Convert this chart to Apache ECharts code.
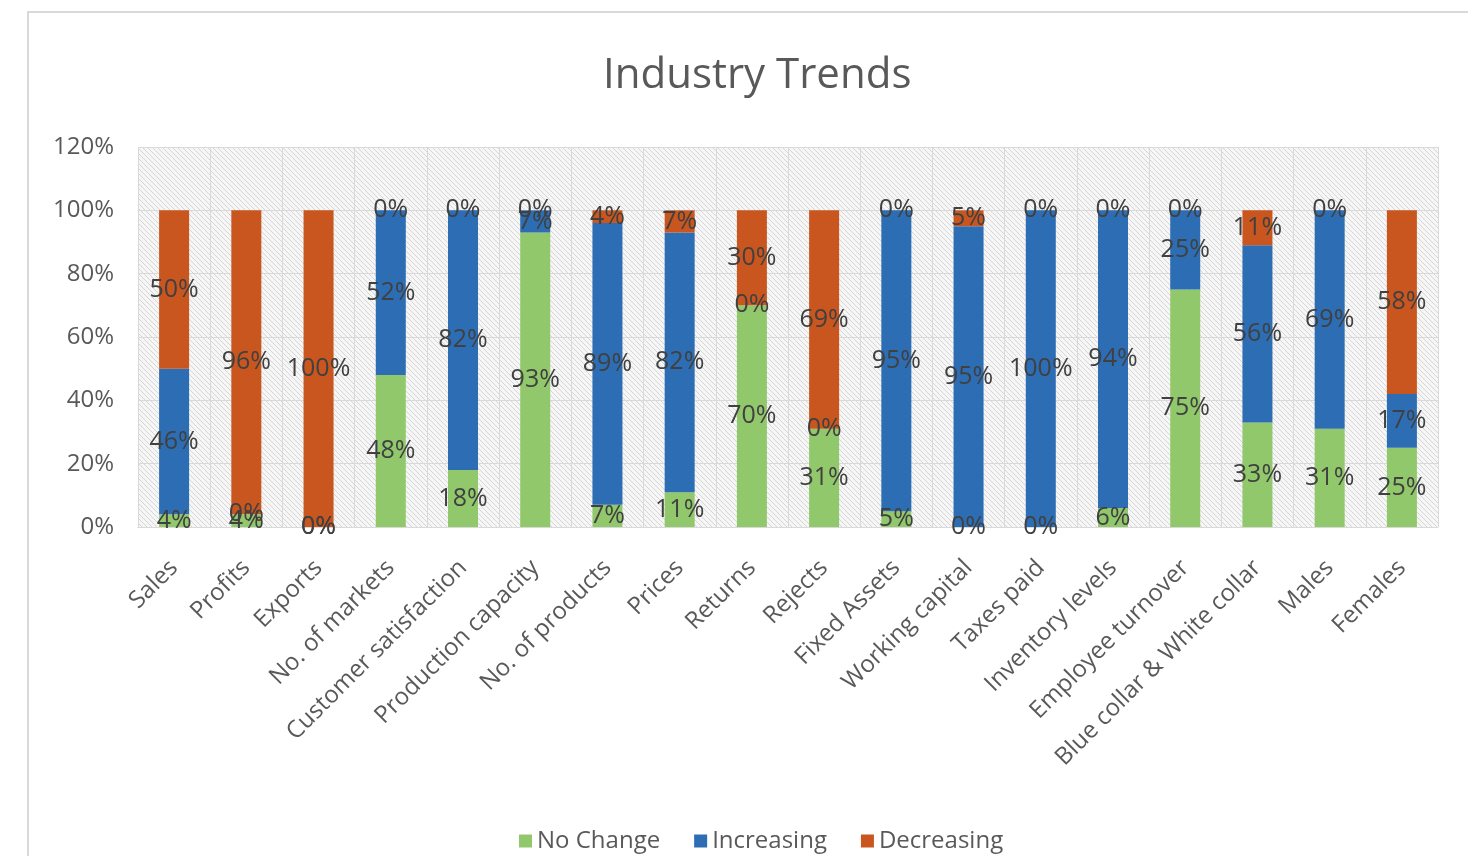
<!DOCTYPE html>
<html>
<head>
<meta charset="utf-8">
<title>Industry Trends</title>
<script src="https://cdn.jsdelivr.net/npm/echarts@6/dist/echarts.min.js"></script>
<style>
  html, body { margin: 0; padding: 0; background: #ffffff; }
  #chart { width: 1468px; height: 856px; }
</style>
</head>
<body>
<div id="chart"></div>
<script>
// Survey categories, left to right
const categories = [
  'Sales', 'Profits', 'Exports', 'No. of markets', 'Customer satisfaction',
  'Production capacity', 'No. of products', 'Prices', 'Returns', 'Rejects',
  'Fixed Assets', 'Working capital', 'Taxes paid', 'Inventory levels',
  'Employee turnover', 'Blue collar & White collar', 'Males', 'Females'
];

// Share of responses per category, in percent
const noChange   = [4, 4, 0, 48, 18, 93, 7, 11, 70, 31, 5, 0, 0, 6, 75, 33, 31, 25];
const increasing = [46, 0, 0, 52, 82, 7, 89, 82, 0, 0, 95, 95, 100, 94, 25, 56, 69, 17];
const decreasing = [50, 96, 100, 0, 0, 0, 4, 7, 30, 69, 0, 5, 0, 0, 0, 11, 0, 58];

// Value axis ticks
const yTicks = [0, 20, 40, 60, 80, 100, 120];

const seriesNames = ['No Change', 'Increasing', 'Decreasing'];
const seriesColors = ['#92c86c', '#2d6db4', '#c9561f'];

// Fine diagonal hatching for the plot area background
function hatchPattern() {
  const c = document.createElement('canvas');
  c.width = 5; c.height = 5;
  const g = c.getContext('2d');
  g.fillStyle = '#f6f6f6';
  g.fillRect(0, 0, 5, 5);
  g.strokeStyle = '#d6d6d6';
  g.lineWidth = 1;
  g.beginPath();
  g.moveTo(-1, -1); g.lineTo(6, 6);
  g.moveTo(-1, 4); g.lineTo(1, 6);
  g.moveTo(4, -1); g.lineTo(6, 1);
  g.stroke();
  return { image: c, repeat: 'repeat' };
}

const textFont = '"Open Sans", "Noto Sans", sans-serif';

function makeSeries(name, data, color) {
  return {
    name: name,
    type: 'bar',
    stack: 'total',
    data: data,
    barWidth: 30,
    itemStyle: { color: color },
    label: {
      show: true,
      position: 'inside',
      formatter: '{c}%',
      color: '#404040',
      fontSize: 25,
      fontFamily: textFont
    },
    emphasis: { disabled: true }
  };
}

const chart = echarts.init(document.getElementById('chart'), null, { renderer: 'canvas' });

chart.setOption({
  backgroundColor: '#ffffff',
  animation: false,
  title: {
    text: 'Industry Trends',
    left: 598,
    top: 50,
    textStyle: {
      color: '#595959',
      fontSize: 42,
      fontWeight: 'normal',
      fontFamily: textFont
    }
  },
  legend: {
    top: 824,
    left: 514,
    itemWidth: 13,
    itemHeight: 13,
    itemGap: 34,
    icon: 'rect',
    data: seriesNames,
    textStyle: { color: '#595959', fontSize: 24, fontFamily: textFont }
  },
  grid: {
    left: 138,
    right: 30,
    top: 147,
    bottom: 329,
    show: true,
    backgroundColor: hatchPattern(),
    borderWidth: 0
  },
  xAxis: {
    type: 'category',
    data: categories,
    axisTick: { show: false },
    axisLine: { show: true, lineStyle: { color: '#d9d9d9', width: 1 } },
    splitLine: { show: true, lineStyle: { color: '#d9d9d9', width: 1 } },
    axisLabel: {
      rotate: 45,
      interval: 0,
      margin: 37,
      color: '#595959',
      fontSize: 24,
      fontFamily: textFont
    }
  },
  yAxis: {
    type: 'value',
    min: yTicks[0],
    max: yTicks[yTicks.length - 1],
    interval: 20,
    axisLine: { show: false },
    axisTick: { show: false },
    splitLine: { show: true, lineStyle: { color: '#d9d9d9', width: 1 } },
    axisLabel: {
      formatter: '{value}%',
      margin: 24,
      color: '#595959',
      fontSize: 24,
      fontFamily: textFont
    }
  },
  graphic: [
    {
      type: 'polyline',
      shape: { points: [[28, 856], [28, 12], [1468, 12]] },
      style: { stroke: '#d9d9d9', lineWidth: 2, fill: null },
      silent: true
    }
  ],
  series: [
    makeSeries(seriesNames[0], noChange, seriesColors[0]),
    makeSeries(seriesNames[1], increasing, seriesColors[1]),
    makeSeries(seriesNames[2], decreasing, seriesColors[2])
  ]
});
</script>
</body>
</html>
